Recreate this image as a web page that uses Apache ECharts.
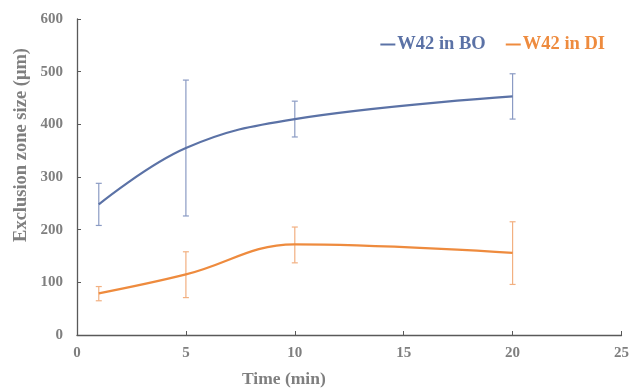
<!DOCTYPE html>
<html><head><meta charset="utf-8">
<script src="https://cdn.jsdelivr.net/npm/echarts@6/dist/echarts.min.js"></script>
<style>html,body{margin:0;padding:0;background:#fff}#c{width:632px;height:391px}</style>
</head><body><div id="c"></div>
<script>
var times = [1, 5, 10, 20];
var boMean = [248, 355, 410, 453];
var boLow = [208, 226, 376, 410];
var boHigh = [288, 484, 444, 496];
var diMean = [79, 115, 172, 156];
var diLow = [65, 71, 137, 96];
var diHigh = [92, 158, 205, 215];
var xTicks = [0, 5, 10, 15, 20, 25];
var yTicks = [0, 100, 200, 300, 400, 500, 600];

var blue = '#5b72a6', orange = '#ee8b3e';
var blueErr = '#8b9bc4', orangeErr = '#f2b081';
var font = '"Liberation Serif","Times New Roman",serif';

function pairs(a, b) { return a.map(function (v, i) { return [v, b[i]]; }); }
function errData(low, high) { return times.map(function (t, i) { return [t, low[i], high[i]]; }); }
function errRender(color) {
  return function (params, api) {
    var x = api.value(0);
    var lo = api.coord([x, api.value(1)]);
    var hi = api.coord([x, api.value(2)]);
    var w = 3;
    var st = { stroke: color, lineWidth: 1.2 };
    return { type: 'group', children: [
      { type: 'line', shape: { x1: lo[0], y1: lo[1], x2: hi[0], y2: hi[1] }, style: st },
      { type: 'line', shape: { x1: lo[0] - w, y1: lo[1], x2: lo[0] + w, y2: lo[1] }, style: st },
      { type: 'line', shape: { x1: hi[0] - w, y1: hi[1], x2: hi[0] + w, y2: hi[1] }, style: st }
    ]};
  };
}

var chart = echarts.init(document.getElementById('c'));
chart.setOption({
  animation: false,
  backgroundColor: '#fff',
  grid: { left: 77, right: 7, top: 19, bottom: 56 },
  legend: {
    top: 30, right: 22, itemGap: 20, itemWidth: 15, itemHeight: 2,
    icon: 'rect',
    textStyle: { fontFamily: font, fontWeight: 'bold', fontSize: 18.5, padding: [0, 0, 0, -3] },
    data: [
      { name: 'W42 in BO', textStyle: { color: blue } },
      { name: 'W42 in DI', textStyle: { color: orange } }
    ]
  },
  xAxis: {
    type: 'value', min: 0, max: 25, interval: 5,
    axisLine: { lineStyle: { color: '#595959', width: 1.3 } },
    axisTick: { inside: true, length: 4, lineStyle: { color: '#595959' } },
    axisLabel: { color: '#7f7f7f', fontFamily: font, fontWeight: 'bold', fontSize: 15, margin: 11,
      formatter: function (v) { return xTicks.indexOf(v) >= 0 ? String(v) : ''; } },
    splitLine: { show: false }
  },
  yAxis: {
    type: 'value', min: 0, max: 600, interval: 100,
    axisLine: { show: true, lineStyle: { color: '#595959', width: 1.3 } },
    axisTick: { show: true, inside: true, length: 4, lineStyle: { color: '#595959' } },
    axisLabel: { color: '#7f7f7f', fontFamily: font, fontWeight: 'bold', fontSize: 15, margin: 14,
      formatter: function (v) { return yTicks.indexOf(v) >= 0 ? String(v) : ''; } },
    splitLine: { show: false }
  },
  graphic: [
    { type: 'text', left: 242, top: 370, style: { text: 'Time (min)', fill: '#7f7f7f',
      font: 'bold 17.5px ' + font } },
    { type: 'text', x: 21, y: 145, rotation: Math.PI / 2,
      style: { text: 'Exclusion zone size (μm)', fill: '#7f7f7f', font: 'bold 18.5px ' + font,
        align: 'center', verticalAlign: 'middle' } }
  ],
  series: [
    { name: 'W42 in BO', type: 'line', smooth: 0.4, data: pairs(times, boMean), showSymbol: false,
      symbol: 'none', color: blue, lineStyle: { color: blue, width: 2.2 }, z: 3 },
    { name: 'W42 in DI', type: 'line', smooth: 0.4, data: pairs(times, diMean), showSymbol: false,
      symbol: 'none', color: orange, lineStyle: { color: orange, width: 2.2 }, z: 3 },
    { type: 'custom', renderItem: errRender(blueErr), data: errData(boLow, boHigh), z: 2, silent: true },
    { type: 'custom', renderItem: errRender(orangeErr), data: errData(diLow, diHigh), z: 2, silent: true }
  ]
});
</script></body></html>
